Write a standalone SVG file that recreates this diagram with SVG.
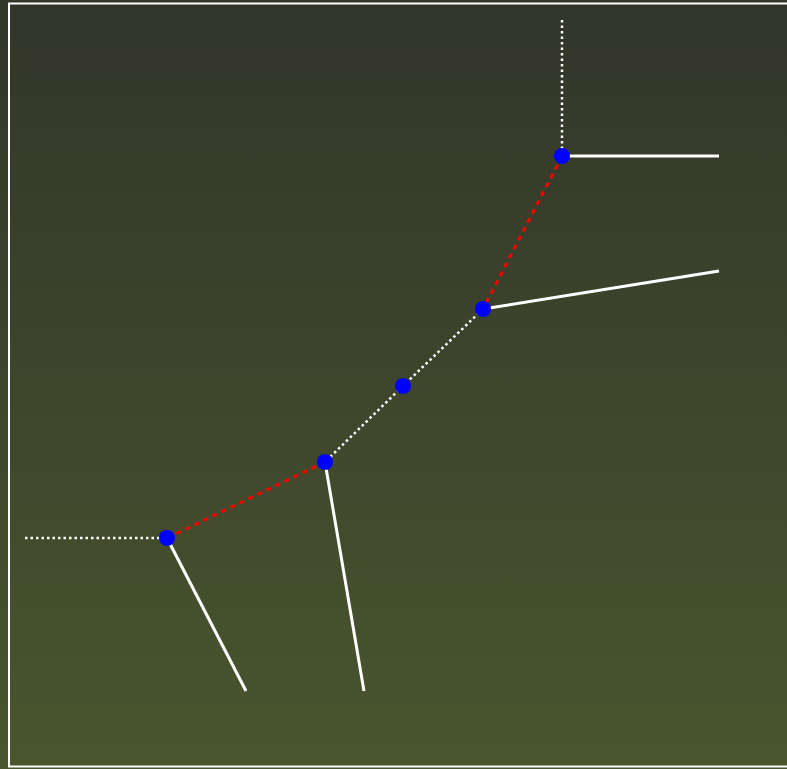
<svg xmlns="http://www.w3.org/2000/svg" width="787" height="769" viewBox="0 0 787 769">
<defs>
<linearGradient id="bg" x1="0" y1="0" x2="0" y2="1">
<stop offset="0" stop-color="#32352a"/>
<stop offset="1" stop-color="#49562e"/>
</linearGradient>
<style>
.solid{stroke:#fff;stroke-width:3;fill:none}
.dot{stroke:#fff;stroke-width:2.5;stroke-dasharray:2.5 3;fill:none}
.red{stroke:#f00;stroke-width:3;stroke-dasharray:5 5;fill:none}
.node{fill:#00f}
</style>
</defs>
<rect x="0" y="0" width="787" height="769" fill="url(#bg)"/>
<rect x="9" y="3.5" width="790" height="763" fill="none" stroke="#fff" stroke-width="2"/>
<g id="connectors">
<line class="dot" x1="562" y1="20" x2="562" y2="156"/>
<line class="solid" x1="562" y1="156" x2="719" y2="156"/>
<line class="red" x1="562" y1="156" x2="483" y2="309"/>
<line class="solid" x1="483" y1="309" x2="719" y2="271"/>
<line class="dot" x1="483" y1="309" x2="403" y2="386"/>
<line class="dot" x1="403" y1="386" x2="325" y2="462"/>
<line class="solid" x1="325" y1="462" x2="364" y2="691"/>
<line class="red" x1="325" y1="462" x2="167" y2="538"/>
<line class="dot" x1="25" y1="538" x2="167" y2="538"/>
<line class="solid" x1="167" y1="538" x2="246" y2="691"/>
</g>
<g id="n1"><circle class="node" cx="562" cy="156" r="8"/></g>
<g id="n2"><circle class="node" cx="483" cy="309" r="8"/></g>
<g id="n3"><circle class="node" cx="403" cy="386" r="8"/></g>
<g id="n4"><circle class="node" cx="325" cy="462" r="8"/></g>
<g id="n5"><circle class="node" cx="167" cy="538" r="8"/></g>
</svg>
